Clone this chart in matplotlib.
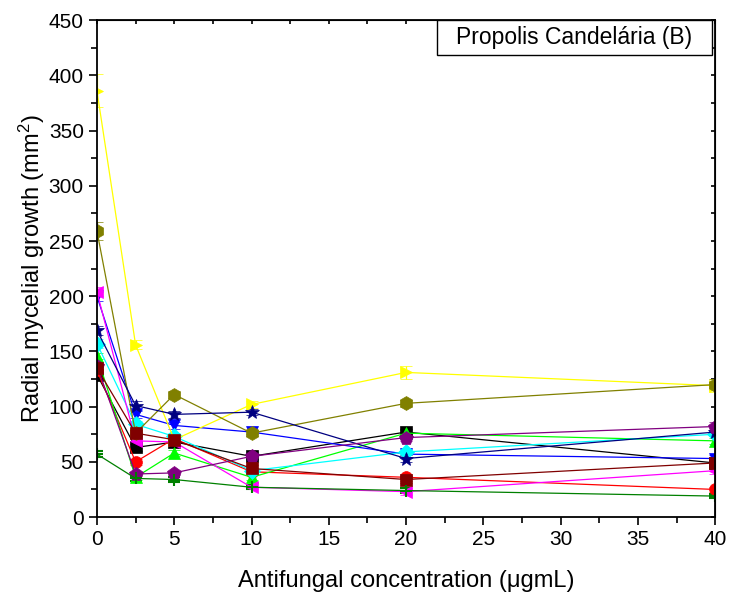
import matplotlib
matplotlib.use("Agg")
import matplotlib.pyplot as plt
from matplotlib.ticker import MultipleLocator
from matplotlib.patches import Rectangle

plt.rcParams['font.family'] = ['Liberation Sans', 'DejaVu Sans']
plt.rcParams['mathtext.default'] = 'regular'

conc = [0, 2.5, 5, 10, 20, 40]

black_vals = [129, 63, 68, 55, 77, 49]
red_vals = [133, 50, 71, 41, 36, 25]
green_vals = [146, 36, 58, 36, 76, 69]
blue_vals = [200, 93, 83, 77, 57, 53]
cyan_vals = [157, 84, 73, 42, 59, 75]
magenta_vals = [204, 69, 68, 27, 23, 42]
yellow_vals = [386, 156, 70, 102, 131, 119]
olive_vals = [259, 76, 111, 76, 103, 120]
navy_vals = [169, 101, 93, 95, 53, 77]
purple_vals = [137, 39, 40, 55, 72, 82]
wine_vals = [135, 76, 70, 44, 34, 49]
dkgreen_vals = [57, 35, 34, 27, 24, 19]

black_err = [3, 3, 3, 2, 3, 2]
red_err = [3, 3, 3, 2, 3, 2]
green_err = [3, 2, 3, 2, 3, 3]
blue_err = [4, 3, 3, 2, 3, 3]
cyan_err = [4, 3, 3, 2, 3, 2]
magenta_err = [4, 3, 2, 2, 3, 3]
yellow_err = [15, 4, 3, 3, 6, 6]
olive_err = [8, 3, 3, 3, 3, 5]
navy_err = [4, 4, 3, 3, 3, 2]
purple_err = [3, 2, 2, 3, 3, 4]
wine_err = [4, 3, 3, 3, 3, 3]
dkgreen_err = [3, 2, 2, 2, 2, 2]

series = [
    (black_vals, black_err, '#000000', 's'),
    (red_vals, red_err, '#FF0000', 'o'),
    (green_vals, green_err, '#00FF00', '^'),
    (blue_vals, blue_err, '#0000FF', 'v'),
    (cyan_vals, cyan_err, '#00FFFF', 'D'),
    (magenta_vals, magenta_err, '#FF00FF', '<'),
    (yellow_vals, yellow_err, '#FFFF00', '>'),
    (olive_vals, olive_err, '#808000', 'h'),
    (navy_vals, navy_err, '#000080', '*'),
    (purple_vals, purple_err, '#800080', 'p'),
    (wine_vals, wine_err, '#800000', 's'),
    (dkgreen_vals, dkgreen_err, '#008000', '+'),
]

fig = plt.figure(figsize=(7.29, 5.95), dpi=100)
ax = fig.add_axes([0.133, 0.131, 0.848, 0.835])

for vals, err, col, mk in series:
    ms = 10 if mk in ('*', 'h', 'p') else 8.5
    ax.errorbar(conc, vals, yerr=err, color=col, marker=mk, markersize=ms,
                markeredgecolor=col, markerfacecolor=col, linewidth=0.9,
                elinewidth=0.9, capsize=4, capthick=0.9,
                markeredgewidth=1.5 if mk == '+' else 0.5)

ax.set_xlim(0, 40)
ax.set_ylim(0, 450)
ax.xaxis.set_major_locator(MultipleLocator(5))
ax.xaxis.set_minor_locator(MultipleLocator(2.5))
ax.yaxis.set_major_locator(MultipleLocator(50))
ax.yaxis.set_minor_locator(MultipleLocator(25))
ax.tick_params(which='major', direction='out', length=6, width=1.2, labelsize=15)
ax.tick_params(which='minor', direction='out', length=4, width=1.2)
for sp in ax.spines.values():
    sp.set_linewidth(1.3)

# top and right axes with small inward ticks, no labels
top = ax.secondary_xaxis('top')
top.xaxis.set_major_locator(MultipleLocator(5))
top.xaxis.set_minor_locator(MultipleLocator(2.5))
top.tick_params(which='both', direction='in', length=3, width=1.2, labeltop=False)
right = ax.secondary_yaxis('right')
right.yaxis.set_major_locator(MultipleLocator(50))
right.yaxis.set_minor_locator(MultipleLocator(25))
right.tick_params(which='both', direction='in', length=3, width=1.2, labelright=False)

ax.set_xlabel('Antifungal concentration (\u03bcgmL)', fontsize=17, labelpad=15)
ax.set_ylabel('Radial mycelial growth (mm$^2$)', fontsize=17, labelpad=1)

box = Rectangle((0.550, 0.930), 0.445, 0.070, transform=ax.transAxes,
                facecolor='white', edgecolor='black', linewidth=1.0, zorder=5)
ax.add_patch(box)
ax.text(0.7725, 0.965, 'Propolis Candel\u00e1ria (B)', transform=ax.transAxes,
        ha='center', va='center', fontsize=16.5, zorder=6)

fig.savefig('out.png', dpi=100)
